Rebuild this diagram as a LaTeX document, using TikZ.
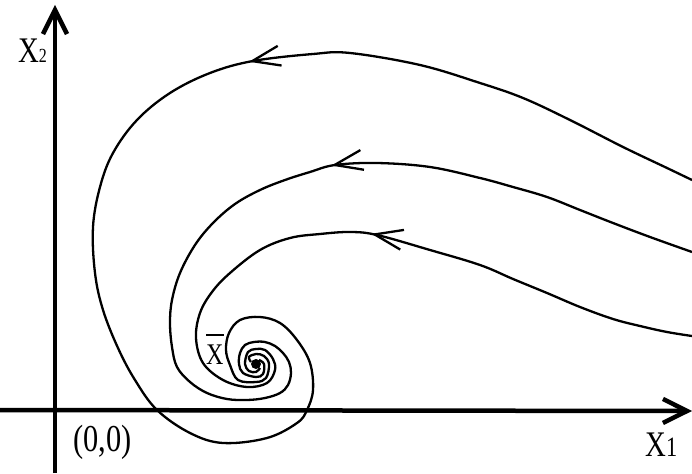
\documentclass[tikz,border=0pt]{standalone}
\usepackage{fontspec}
\setmainfont{Liberation Serif}
\newfontfamily\labelfont[FakeStretch=0.8]{Liberation Serif}
\usetikzlibrary{arrows.meta, decorations.markings}

\begin{document}
\begin{tikzpicture}[x=1pt, y=-1pt,
    axis/.style={line width=4.5pt, -{Straight Barb[length=24pt,width=24pt]}},
    traj/.style={line width=2.3pt, postaction={decorate},
      decoration={markings, mark=at position #1 with {\arrow{Straight Barb[length=28pt,width=20pt]}}}},
    lbl/.style={font=\labelfont\fontsize{36}{40}\selectfont, inner sep=0pt, anchor=base west}]
  \useasboundingbox (0,0) rectangle (692,473);

  % Axes
  \coordinate (ybot) at (55,473);
  \coordinate (ytop) at (55,5);
  \coordinate (xleft) at (0,410);
  \coordinate (xright) at (692,411);
  \draw[axis] (xleft) -- (xright);
  \draw[axis] (ybot) -- (ytop);

  % Equilibrium point
  \node[circle, fill, inner sep=0pt, minimum size=10pt] (xbar) at (256,364) {};

  % Trajectories
  \draw[traj=0.343] plot[smooth, tension=0.6] coordinates {
    (692,180) (667,168) (623,147) (570,120) (523,98) (480,83) (420,65) (350,53)
    (313,54) (253,61) (210,73) (170,93) (137,120) (113,153) (100,187) (93,227)
    (95,273) (103,310) (118,348) (135,380) (157,410) (190,433) (223,443) (267,438)
    (297,423) (307,410) (313,390) (310,363) (297,340) (280,323) (260,317) (240,320)
    (229,333) (226,350) (230,365) (238,380) (256,382) (266,378) (269,364) (264,356)
    (256,354) (249,357) (251,362)};
  \draw[traj=0.40] plot[smooth, tension=0.6] coordinates {
    (692,252) (650,237) (613,223) (580,210) (547,197) (513,187) (480,178) (430,167)
    (377,163) (335,165) (310,172) (285,180) (260,190) (235,204) (213,223) (195,245)
    (180,273) (172,300) (170,323) (172,347) (177,367) (190,382) (207,393) (227,399)
    (247,400) (265,398) (280,393) (288,385) (291,373) (289,362) (283,353) (275,346)
    (265,342) (254,342) (245,345) (240,353) (239,364) (243,373) (256,377) (263,374)
    (264,364) (259,360)};
  \draw[traj=0.447] plot[smooth, tension=0.6] coordinates {
    (692,336) (667,332) (640,326) (613,319) (580,307) (547,293) (513,279) (480,265)
    (430,250) (377,235) (350,232) (320,234) (290,238) (260,250) (230,273) (212,292)
    (200,313) (196,338) (203,363) (223,380) (247,387) (267,383) (275,370) (273,359)
    (265,350) (256,349) (248,352) (245,364) (249,371) (256,372) (260,368)};

  % Labels
  \node[lbl] (x2lbl) at (18,63) {X{\fontsize{20}{24}\selectfont 2}};
  \node[lbl] (x1lbl) at (645,456) {X{\fontsize{28}{32}\selectfont 1}};
  \node[lbl, font=\labelfont\fontsize{38}{44}\selectfont] (orig) at (73,451) {(0,0)};
  \node[lbl, font=\labelfont\fontsize{30}{34}\selectfont] (xbarlbl) at (206,364)
    {\rlap{\raisebox{28pt}{\rule{18pt}{2pt}}}X};
\end{tikzpicture}
\end{document}
